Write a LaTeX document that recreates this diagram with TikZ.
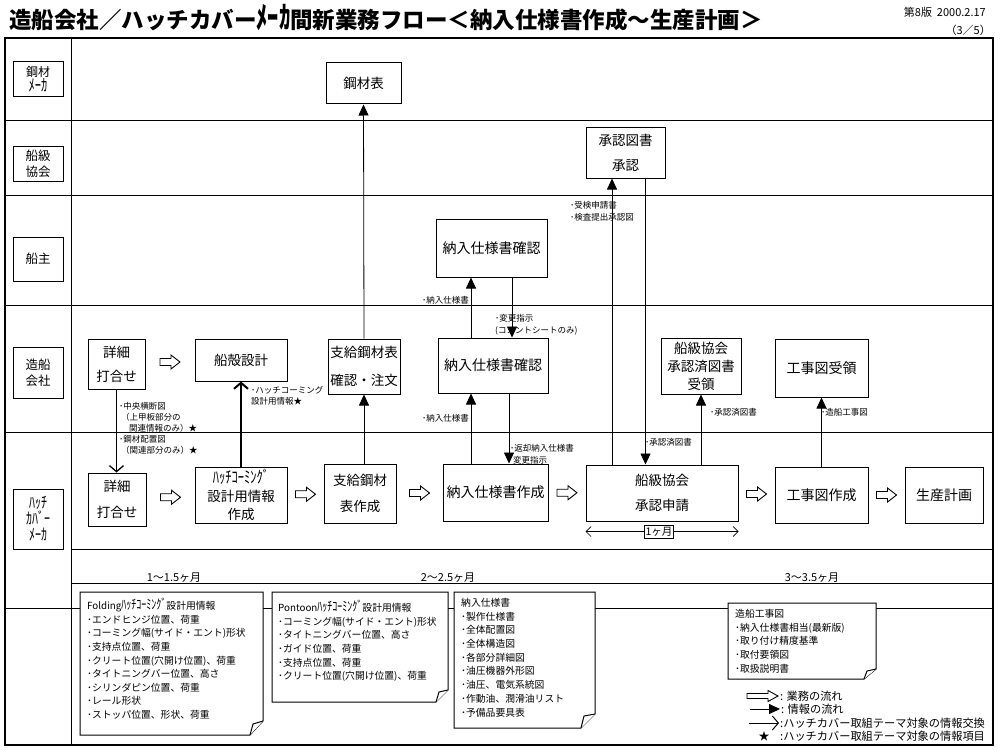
\documentclass[tikz,border=0pt]{standalone}
\usepackage{fontspec}
\usepackage{graphicx}
\setmainfont{Noto Sans CJK JP}
\usetikzlibrary{arrows.meta,calc}
\newcommand{\fsz}[2]{\fontsize{#1}{#2}\selectfont}
\newcommand{\hwk}[1]{\scalebox{1}[1.35]{#1}}
\tikzset{
  laneline/.style={line width=0.9pt},
  framebox/.style={line width=1.4pt},
  box/.style={draw, line width=1pt, fill=white, align=center, inner sep=0pt},
  lanebox/.style={draw, line width=1pt, fill=white, align=center, inner sep=0pt, minimum width=50pt},
  info/.style={line width=0.8pt, -{Triangle[length=11pt,width=10pt]}},
  theme/.style={line width=1.3pt, -{Straight Barb[length=6pt,width=14pt]}},
  lbl/.style={inner sep=0pt, anchor=north west, align=left, font=\fsz{8.5}{11}},
  notebox/.style={draw, line width=1pt, fill=white},
  notetext/.style={inner sep=0pt, anchor=north west, align=left, font=\fsz{9.8}{13.6}},
  timelbl/.style={inner sep=0pt, anchor=base, font=\fsz{11}{12}},
  legtext/.style={inner sep=0pt, anchor=west, font=\fsz{11.2}{12}},
  flowarrow/.pic={\draw[line width=0.9pt, fill=white] (-10,-3.5) -- (1,-3.5) -- (1,-7) -- (10,0) -- (1,7) -- (1,3.5) -- (-10,3.5) -- cycle;},
}
\begin{document}
\begin{tikzpicture}[x=1pt,y=-1pt]
\useasboundingbox (0,0) rectangle (1000,749);
% title
\node[anchor=west, inner sep=0pt, font=\bfseries\fsz{22.5}{24}] (title) at (9,18) {造船会社／ハッチカバー\hwk{ﾒｰｶ}間新業務フロー＜納入仕様書作成〜生産計画＞};
\node[anchor=east, inner sep=0pt, font=\fsz{11}{12}] (ver) at (986,12) {第8版\ \ 2000.2.17};
\node[anchor=east, inner sep=0pt, font=\fsz{11}{12}] (page) at (991,30) {（3／5）};
% frame and lanes
\draw[framebox] (5,38) rectangle (993,745);
\draw[laneline] (71,38) -- (71,745);
\foreach \yy in {120,195,305,432} \draw[laneline] (5,\yy) -- (993,\yy);
\draw[laneline] (71,549) -- (993,549);
\draw[laneline] (71,583) -- (993,583);
\draw[laneline] (5,608) -- (993,608);
% lane labels
\node[lanebox, minimum height=35pt, font=\fsz{12}{15}] (Lsteel) at (38,79.5) {鋼材\\{\fsz{12.5}{15}\hwk{ﾒｰｶ}}};
\node[lanebox, minimum height=35pt, font=\fsz{12.5}{16}] (Lclass) at (38,163.5) {船級\\協会};
\node[lanebox, minimum height=44pt, font=\fsz{12.5}{16}] (Lowner) at (38,259) {船主};
\node[lanebox, minimum height=51pt, font=\fsz{12.5}{16}] (Lyard) at (38,372.5) {造船\\会社};
\node[lanebox, minimum height=60pt, font=\fsz{12}{16}] (Lhatch) at (38,519) {\hwk{ﾊｯﾁ}\\\hwk{ｶﾊﾞｰ}\\\hwk{ﾒｰｶ}};
% process boxes
\node[box, minimum width=75pt, minimum height=41pt, font=\fsz{13.5}{16}] (kozai) at (363.5,83.5) {鋼材表};
\node[box, minimum width=79pt, minimum height=51pt, font=\fsz{13.5}{25}] (shonin) at (625.5,152.5) {承認図書\\承認};
\node[box, minimum width=111pt, minimum height=58pt, font=\fsz{14}{16}] (ownerchk) at (491.5,248) {納入仕様書確認};
\node[box, minimum width=57pt, minimum height=50pt, font=\fsz{13.5}{24}] (zshosai) at (116.5,364) {詳細\\打合せ};
\node[box, minimum width=92pt, minimum height=42pt, font=\fsz{13.5}{16}] (senkaku) at (241,360) {船殻設計};
\node[box, minimum width=72pt, minimum height=55pt, font=\fsz{13.5}{28}] (shikyu) at (364,366.5) {支給鋼材表\\確認・注文};
\node[box, minimum width=110pt, minimum height=55pt, font=\fsz{14}{16}] (zchk) at (493,365.5) {納入仕様書確認};
\node[box, minimum width=80pt, minimum height=56pt, font=\fsz{13.5}{18}] (kyokaiju) at (701,366) {船級協会\\承認済図書\\受領};
\node[box, minimum width=93pt, minimum height=58pt, font=\fsz{14}{16}] (kojiju) at (821.5,368) {工事図受領};
\node[box, minimum width=58pt, minimum height=53pt, font=\fsz{13.5}{26}] (hshosai) at (117,499.5) {詳細\\打合せ};
\node[box, minimum width=92pt, minimum height=56pt, font=\fsz{13.5}{18}] (hcoaming) at (241,495) {{\fsz{12.5}{12}\hwk{ﾊｯﾁｺｰﾐﾝｸﾞ}}\\設計用情報\\作成};
\node[box, minimum width=72pt, minimum height=59pt, font=\fsz{13.5}{26}] (hshikyu) at (360,493.5) {支給鋼材\\表作成};
\node[box, minimum width=105pt, minimum height=57pt, font=\fsz{14}{16}] (hsakusei) at (495.5,492.5) {納入仕様書作成};
\node[box, minimum width=152pt, minimum height=56pt, font=\fsz{13.5}{25}] (hshinsei) at (662,493) {船級協会\\承認申請};
\node[box, minimum width=93pt, minimum height=56pt, font=\fsz{14}{16}] (hkoji) at (821.5,495) {工事図作成};
\node[box, minimum width=78pt, minimum height=56pt, font=\fsz{14}{16}] (hseisan) at (944,495) {生産計画};
% business flow arrows
\foreach \a/\b in {zshosai/senkaku, hshosai/hcoaming, hcoaming/hshikyu, hshikyu/hsakusei, hsakusei/hshinsei, hshinsei/hkoji, hkoji/hseisan}
  \pic at ($(\a.east)!0.5!(\b.west)$) {flowarrow};
% 1 month span
\draw[line width=0.7pt, {Straight Barb[length=5pt,width=10pt]}-{Straight Barb[length=5pt,width=10pt]}] ([yshift=-10pt]hshinsei.south west) -- ([yshift=-10pt]hshinsei.south east);
\node[draw, line width=0.9pt, fill=white, inner sep=1.5pt, font=\fsz{10.5}{12}] (month) at ([xshift=-3pt,yshift=-10.5pt]hshinsei.south) {1ヶ月};
% information arrows
\draw[theme] (zshosai.south) -- (zshosai.south |- hshosai.north);
\draw[theme, line width=2pt] (hcoaming.north) -- (senkaku.south);
\draw[info] (hshikyu.north -| shikyu.south) -- (shikyu.south);
\draw[info] (shikyu.north) -- (kozai.south);
\draw[info] ([xshift=-24.5pt]hsakusei.north) -- ([xshift=-24.5pt]hsakusei.north |- zchk.south);
\draw[info] ([xshift=-20.5pt]ownerchk.south |- zchk.north) -- ([xshift=-20.5pt]ownerchk.south);
\draw[info] ([xshift=20.5pt]ownerchk.south) -- ([xshift=20.5pt]ownerchk.south |- zchk.north);
\draw[info] ([xshift=16pt]zchk.south) -- ([xshift=16pt]zchk.south |- hsakusei.north);
\draw[info] ([xshift=-50pt]hshinsei.north) -- ([xshift=-50pt]hshinsei.north |- shonin.south);
\draw[info] ([xshift=20pt]shonin.south) -- ([xshift=20pt]shonin.south |- hshinsei.north);
\draw[info] (hshinsei.north -| kyokaiju.south) -- (kyokaiju.south);
\draw[info] (hkoji.north) -- (kojiju.south);
% arrow labels
\node[lbl] (l1) at (119,402) {･中央横断図\\\hspace{2pt}（上甲板部分の\\\hspace{10pt}関連情報のみ）★\\･鋼材配置図\\\hspace{2pt}（関連部分のみ）★};
\node[lbl] (l2) at (251,386) {･ハッチコーミング\\設計用情報★};
\node[lbl] (l3) at (422,296) {･納入仕様書};
\node[lbl, font=\fsz{8.5}{12}] (l4) at (495,314) {･変更指示\\(コメントシートのみ)};
\node[lbl] (l5) at (422,414) {･納入仕様書};
\node[lbl, font=\fsz{8.5}{12}] (l6) at (510,444) {･返却納入仕様書\\\hspace{3pt}変更指示};
\node[lbl, font=\fsz{8.5}{12}] (l7) at (570,201) {･受検申請書\\･検査提出承認図};
\node[lbl] (l8) at (645,438) {･承認済図書};
\node[lbl] (l9) at (710,408) {･承認済図書};
\node[lbl] (l10) at (821,408) {･造船工事図};
% time row
\node[timelbl] (t1) at (174,581) {1〜1.5ヶ月};
\node[timelbl] (t2) at (448,581) {2〜2.5ヶ月};
\node[timelbl] (t3) at (812,581) {3〜3.5ヶ月};
% notes
\draw[notebox] (80,592) -- (263,592) -- (263,721) -- (250,735) -- (80,735) -- cycle;
\draw[notebox] (250,735) -- (253,724) -- (263,721);
\node[notetext] (n1) at (87,598) {Folding{\fsz{10}{13}\hwk{ﾊｯﾁｺｰﾐﾝｸﾞ}}設計用情報\\･エンドヒンジ位置、荷重\\･コーミング幅(サイド・エント)形状\\･支持点位置、荷重\\･クリート位置(穴開け位置)、荷重\\･タイトニングバー位置、高さ\\･シリンダピン位置、荷重\\･レール形状\\･ストッパ位置、形状、荷重};
\draw[notebox] (272,592) -- (448,592) -- (448,690) -- (436,702) -- (272,702) -- cycle;
\draw[notebox] (436,702) -- (439,692) -- (448,690);
\node[notetext, font=\fsz{9.8}{13.6}] (n2) at (278,600) {Pontoon{\fsz{10}{13}\hwk{ﾊｯﾁｺｰﾐﾝｸﾞ}}設計用情報\\･コーミング幅(サイド・エント)形状\\･タイトニングバー位置、高さ\\･ガイド位置、荷重\\･支持点位置、荷重\\･クリート位置(穴開け位置)、荷重};
\draw[notebox] (454,592) -- (595,592) -- (595,714) -- (581,728) -- (454,728) -- cycle;
\draw[notebox] (581,728) -- (584,716) -- (595,714);
\node[notetext, font=\fsz{9.8}{13.7}] (n3) at (461,598) {納入仕様書\\･製作仕様書\\･全体配置図\\･全体構造図\\･各部分詳細図\\･油圧機器外形図\\･油圧、電気系統図\\･作動油、潤滑油リスト\\･予備品要具表};
\draw[notebox] (728,603) -- (876,603) -- (876,669) -- (864,679) -- (728,679) -- cycle;
\draw[notebox] (864,679) -- (867,671) -- (876,669);
\node[notetext, font=\fsz{9.8}{13.7}] (n4) at (735,609) {造船工事図\\･納入仕様書相当(最新版)\\･取り付け精度基準\\･取付要領図\\･取扱説明書};
% legend
\coordinate (g1) at (747,696);
\draw[line width=0.9pt, fill=white] (g1) ++(0,-2.5) -- ++(21,0) -- ++(0,-3) -- ++(10,5.5) -- ++(-10,5.5) -- ++(0,-3) -- ++(-21,0) -- cycle;
\node[legtext] (g1t) at (780,696) {: 業務の流れ};
\coordinate (g2a) at (750,709);
\coordinate (g2b) at (780,709);
\draw[info] (g2a) -- (g2b);
\node[legtext] (g2t) at (781,709) {: 情報の流れ};
\coordinate (g3a) at (749,723);
\coordinate (g3b) at (779,723);
\draw[theme, line width=1pt] (g3a) -- (g3b);
\node[legtext] (g3t) at (780,723) {:ハッチカバー取組テーマ対象の情報交換};
\node[inner sep=0pt, font=\fsz{11}{12}] (g4s) at (764,736) {★};
\node[legtext] (g4t) at (780,736) {:ハッチカバー取組テーマ対象の情報項目};
\end{tikzpicture}
\end{document}
